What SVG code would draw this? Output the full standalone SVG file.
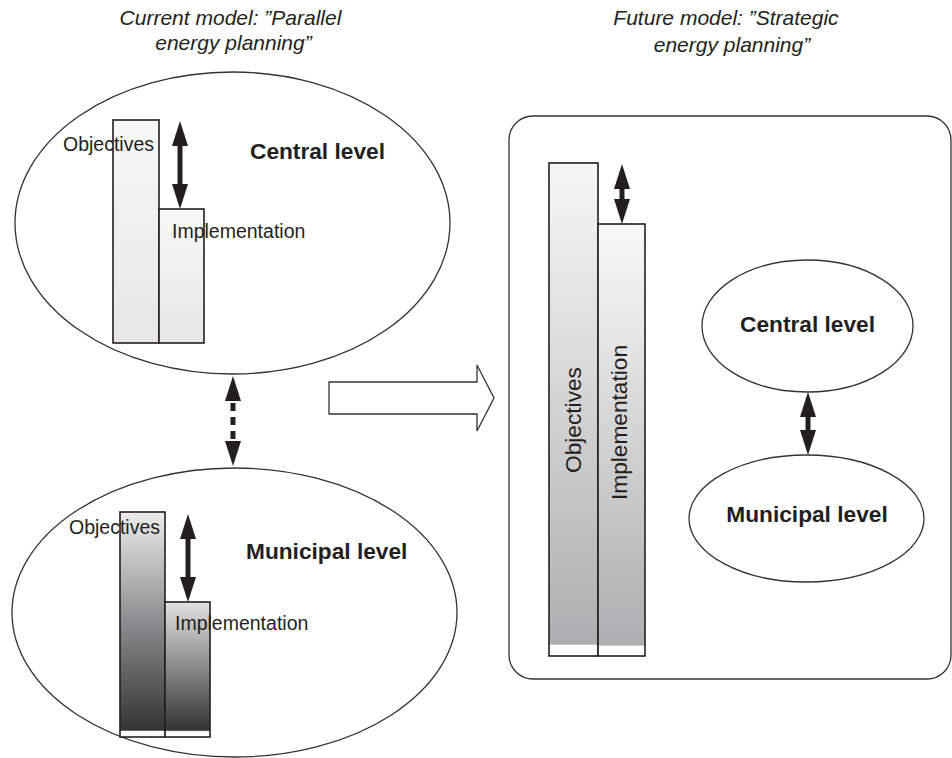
<svg xmlns="http://www.w3.org/2000/svg" width="952" height="758" viewBox="0 0 952 758">
<style>
.t{font-family:"Liberation Sans",Arial,sans-serif;fill:#231f20}
.title{font-style:italic;font-size:21px;text-anchor:middle}
.lbl{font-size:19.5px}
.big{font-size:22.7px;font-weight:bold}
.rot{font-size:22.7px;text-anchor:middle}
.ell{fill:#fff;stroke:#333;stroke-width:1.3}
.bar{stroke:#231f20;stroke-width:1.6}
.conn{stroke:#231f20;stroke-width:5;fill:none}
</style>
<defs>
<linearGradient id="gLight" x1="0" y1="0" x2="0" y2="1">
<stop offset="0" stop-color="#f8f8f8"/><stop offset="1" stop-color="#e6e6e6"/>
</linearGradient>
<linearGradient id="gDark" x1="0" y1="0" x2="0" y2="1">
<stop offset="0" stop-color="#ececec"/><stop offset="0.5" stop-color="#8a8a8c"/><stop offset="0.97" stop-color="#343434"/><stop offset="0.975" stop-color="#ffffff"/><stop offset="1" stop-color="#ffffff"/>
</linearGradient>
<linearGradient id="gDark2" x1="0" y1="0" x2="0" y2="1">
<stop offset="0" stop-color="#e2e2e2"/><stop offset="0.95" stop-color="#343434"/><stop offset="0.96" stop-color="#ffffff"/><stop offset="1" stop-color="#ffffff"/>
</linearGradient>
<linearGradient id="gMid" x1="0" y1="0" x2="0" y2="1">
<stop offset="0" stop-color="#f6f6f6"/><stop offset="0.3" stop-color="#e2e2e2"/><stop offset="0.976" stop-color="#aeaeb0"/><stop offset="0.978" stop-color="#ffffff"/><stop offset="1" stop-color="#ffffff"/>
</linearGradient>
<linearGradient id="gMid2" x1="0" y1="0" x2="0" y2="1">
<stop offset="0" stop-color="#f8f8f8"/><stop offset="0.25" stop-color="#e6e6e6"/><stop offset="0.975" stop-color="#aeaeb0"/><stop offset="0.977" stop-color="#ffffff"/><stop offset="1" stop-color="#ffffff"/>
</linearGradient>
<marker id="head" markerUnits="userSpaceOnUse" markerWidth="26" markerHeight="18" viewBox="0 0 26 18" refX="1" refY="8" orient="auto-start-reverse">
<path d="M0,0 L25,8 L0,16 z" fill="#231f20"/>
</marker>
</defs>

<g id="title-current">
<text class="t title" x="230.5" y="25">Current model: ”Parallel</text>
<text class="t title" x="233.5" y="50">energy planning”</text>
</g>
<g id="title-future">
<text class="t title" x="726" y="25">Future model: ”Strategic</text>
<text class="t title" x="732" y="52">energy planning”</text>
</g>

<g id="current-central">
<ellipse class="ell" cx="232.5" cy="223" rx="217.5" ry="151"/>
<rect class="bar" x="113" y="120" width="46" height="223" fill="url(#gLight)"/>
<rect class="bar" x="159" y="209" width="45" height="134" fill="url(#gLight)"/>
<text class="t lbl" x="63" y="151">Objectives</text>
<text class="t lbl" x="172" y="238">Implementation</text>
<text class="t big" x="250" y="159">Central level</text>
</g>

<g id="current-municipal">
<ellipse class="ell" cx="234.5" cy="612.5" rx="222.5" ry="144.5"/>
<rect class="bar" x="120" y="512" width="45" height="225" fill="url(#gDark)"/>
<rect class="bar" x="165" y="602" width="45" height="135" fill="url(#gDark2)"/>
<text class="t lbl" x="69" y="534">Objectives</text>
<text class="t lbl" x="175" y="630">Implementation</text>
<text class="t big" x="246" y="559">Municipal level</text>
</g>

<g id="transition-arrow">
<polygon points="329,382 477,382 477,365 494,398 477,431 477,414 329,414" fill="#fff" stroke="#333" stroke-width="1.3"/>
</g>

<g id="future-panel">
<rect x="509" y="116" width="442" height="563" rx="24" ry="24" fill="#fff" stroke="#333" stroke-width="1.3"/>
<rect class="bar" x="549" y="163" width="49" height="493" fill="url(#gMid)"/>
<rect class="bar" x="598" y="224" width="47" height="432" fill="url(#gMid2)"/>
<text class="t rot" transform="translate(581,420) rotate(-90)">Objectives</text>
<text class="t rot" transform="translate(627,422.5) rotate(-90)">Implementation</text>
</g>

<g id="future-central">
<ellipse class="ell" cx="807.5" cy="326" rx="105.5" ry="66"/>
<text class="t big" x="807.5" y="332" text-anchor="middle">Central level</text>
</g>

<g id="future-municipal">
<ellipse class="ell" cx="806.5" cy="518.5" rx="117.5" ry="63.5"/>
<text class="t big" x="807" y="522" text-anchor="middle">Municipal level</text>
</g>

<g id="connectors">
<line class="conn" x1="180" y1="145" x2="180" y2="185" marker-start="url(#head)" marker-end="url(#head)"/>
<line class="conn" x1="188" y1="538" x2="188" y2="578" marker-start="url(#head)" marker-end="url(#head)"/>
<line class="conn" x1="233" y1="400" x2="233" y2="442" stroke-width="4.5" stroke-dasharray="8,6" stroke-dashoffset="-3" marker-start="url(#head)" marker-end="url(#head)"/>
<line class="conn" x1="622" y1="188" x2="622" y2="200" marker-start="url(#head)" marker-end="url(#head)"/>
<line class="conn" x1="808" y1="416" x2="808" y2="431" marker-start="url(#head)" marker-end="url(#head)"/>
</g>
</svg>
